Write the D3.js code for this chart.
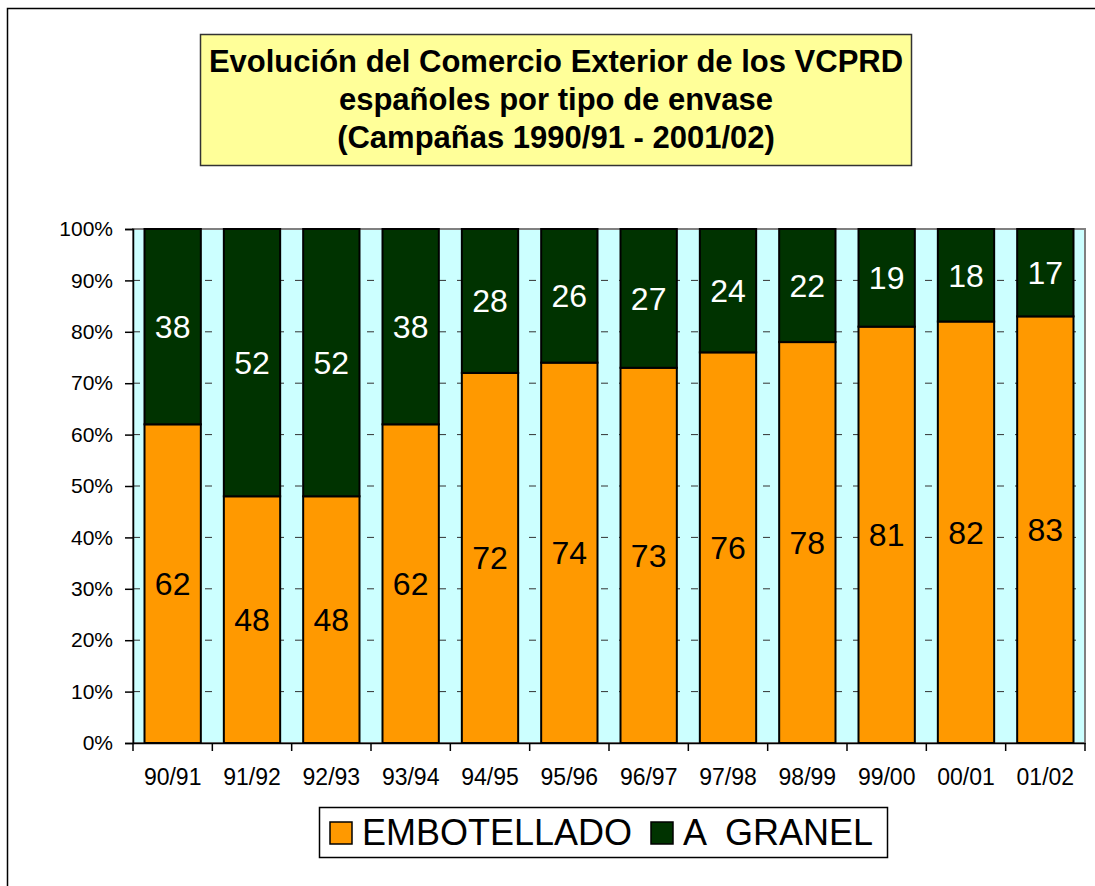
<!DOCTYPE html>
<html lang="es">
<head>
    <meta charset="UTF-8">
    <title>Evolución del Comercio Exterior de los VCPRD</title>
    <script src="https://d3js.org/d3.v7.min.js"></script>
    <style>
        body { margin: 0; background: #fff; }
        text { font-family: "Liberation Sans", Arial, sans-serif; }
    </style>
</head>
<body>
    <div id="chart"></div>
    <script>
        // Data
        const campaigns = ['90/91', '91/92', '92/93', '93/94', '94/95', '95/96',
                           '96/97', '97/98', '98/99', '99/00', '00/01', '01/02'];
        const embotellado = [62, 48, 48, 62, 72, 74, 73, 76, 78, 81, 82, 83];
        const granel = [38, 52, 52, 38, 28, 26, 27, 24, 22, 19, 18, 17];
        const seriesNames = ['EMBOTELLADO', 'A  GRANEL'];
        const yTicks = [0, 10, 20, 30, 40, 50, 60, 70, 80, 90, 100];
        const titleLines = ['Evolución del Comercio Exterior de los VCPRD',
                            'españoles por tipo de envase',
                            '(Campañas 1990/91 - 2001/02)'];

        const colors = ['#FF9900', '#003300'];

        const svg = d3.select('#chart')
            .append('svg')
            .attr('width', 1095)
            .attr('height', 886);

        // Outer frame
        svg.append('rect')
            .attr('x', 7.5).attr('y', 8.5)
            .attr('width', 1200).attr('height', 1000)
            .attr('fill', '#fff')
            .attr('stroke', '#000')
            .attr('stroke-width', 1.5);

        // Title box
        svg.append('rect')
            .attr('x', 200.5).attr('y', 34.5)
            .attr('width', 711).attr('height', 131)
            .attr('fill', '#FFFF99')
            .attr('stroke', '#333')
            .attr('stroke-width', 1.5);

        svg.append('g')
            .selectAll('text')
            .data(titleLines)
            .enter()
            .append('text')
            .attr('x', 556)
            .attr('y', (d, i) => 72 + i * 38)
            .attr('text-anchor', 'middle')
            .attr('font-size', 31)
            .attr('font-weight', 'bold')
            .text(d => d);

        // Scales
        const plotLeft = 133, plotRight = 1085, plotTop = 229, plotBottom = 743;

        const x = d3.scaleBand()
            .domain(campaigns)
            .range([plotLeft, plotRight])
            .padding(0);

        const y = d3.scaleLinear()
            .domain([0, 100])
            .range([plotBottom, plotTop]);

        const barW = x.bandwidth() * 0.71;

        // Plot background
        svg.append('rect')
            .attr('x', plotLeft).attr('y', plotTop)
            .attr('width', plotRight - plotLeft).attr('height', plotBottom - plotTop)
            .attr('fill', '#CCFFFF')
            .attr('stroke', '#808080')
            .attr('stroke-width', 2);

        // Gridlines
        svg.append('g')
            .selectAll('line')
            .data(yTicks.filter(t => t > 0 && t < 100))
            .enter()
            .append('line')
            .attr('x1', plotLeft).attr('x2', plotRight)
            .attr('y1', d => y(d)).attr('y2', d => y(d))
            .attr('stroke', '#333')
            .attr('stroke-width', 1)
            .attr('stroke-dasharray', '7,11');

        // Stacked bars
        const rows = campaigns.map((c, i) => ({ campaign: c, emb: embotellado[i], gra: granel[i] }));
        const stacked = d3.stack().keys(['emb', 'gra'])(rows);

        const layers = svg.append('g')
            .selectAll('g')
            .data(stacked)
            .enter()
            .append('g')
            .attr('fill', (d, i) => colors[i]);

        layers.selectAll('rect')
            .data(d => d)
            .enter()
            .append('rect')
            .attr('x', d => x(d.data.campaign) + (x.bandwidth() - barW) / 2)
            .attr('y', d => y(d[1]))
            .attr('width', barW)
            .attr('height', d => y(d[0]) - y(d[1]))
            .attr('stroke', '#000')
            .attr('stroke-width', 2);

        // Value labels
        layers.each(function (layer, li) {
            d3.select(this).selectAll('text')
                .data(layer)
                .enter()
                .append('text')
                .attr('x', d => x(d.data.campaign) + x.bandwidth() / 2)
                .attr('y', d => y((d[0] + d[1]) / 2))
                .attr('dy', '0.36em')
                .attr('text-anchor', 'middle')
                .attr('font-size', 32)
                .attr('fill', li === 0 ? '#000' : '#fff')
                .attr('stroke', 'none')
                .text(d => d[1] - d[0]);
        });

        // Y axis
        const yAxis = svg.append('g')
            .attr('transform', `translate(${plotLeft},0)`)
            .call(d3.axisLeft(y)
                .tickValues(yTicks)
                .tickSize(8)
                .tickPadding(12)
                .tickFormat(d => d + '%'));
        yAxis.select('.domain').attr('stroke', '#000').attr('stroke-width', 1.5);
        yAxis.selectAll('.tick line').attr('stroke', '#000').attr('stroke-width', 1.5);
        yAxis.selectAll('.tick text')
            .attr('font-size', 21)
            .attr('font-family', '"Liberation Sans", Arial, sans-serif')
            .attr('fill', '#000');

        // X axis
        const xAxis = svg.append('g')
            .attr('transform', `translate(0,${plotBottom})`)
            .call(d3.axisBottom(x).tickSize(0).tickPadding(26));
        xAxis.select('.domain').attr('stroke', '#000').attr('stroke-width', 1.5);
        xAxis.selectAll('.tick text')
            .attr('font-size', 23)
            .attr('font-family', '"Liberation Sans", Arial, sans-serif')
            .attr('fill', '#000');

        // X tick marks at band boundaries
        svg.append('g')
            .selectAll('line')
            .data(campaigns.map(c => x(c)).concat([plotRight]))
            .enter()
            .append('line')
            .attr('x1', d => d).attr('x2', d => d)
            .attr('y1', plotBottom).attr('y2', plotBottom + 8)
            .attr('stroke', '#000')
            .attr('stroke-width', 1.5);

        // Legend
        const legend = svg.append('g');
        legend.append('rect')
            .attr('x', 319.5).attr('y', 807.5)
            .attr('width', 568).attr('height', 50)
            .attr('fill', '#fff')
            .attr('stroke', '#000')
            .attr('stroke-width', 1.5);

        const legendX = [330, 651];
        const items = legend.selectAll('g.item')
            .data(seriesNames)
            .enter()
            .append('g')
            .attr('class', 'item')
            .attr('transform', (d, i) => `translate(${legendX[i]},822)`);

        items.append('rect')
            .attr('width', 22).attr('height', 22)
            .attr('fill', (d, i) => colors[i])
            .attr('stroke', '#000')
            .attr('stroke-width', 1.5);

        items.append('text')
            .attr('x', 32)
            .attr('y', 23)
            .attr('font-size', 36)
            .style('white-space', 'pre')
            .text(d => d);
    </script>
</body>
</html>
